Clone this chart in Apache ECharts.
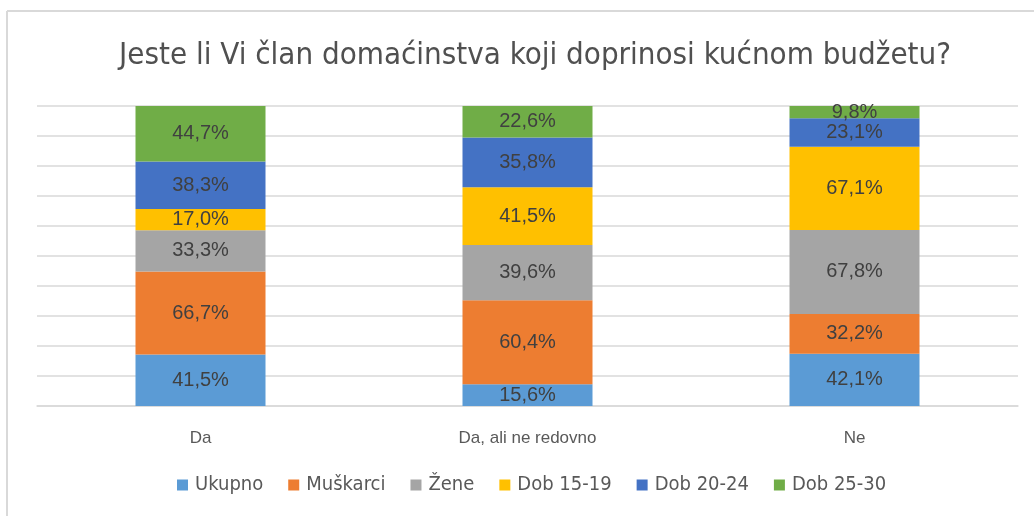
<!DOCTYPE html>
<html>
<head>
<meta charset="utf-8">
<script src="https://cdn.jsdelivr.net/npm/echarts@6/dist/echarts.min.js"></script>
<style>
  html, body { margin: 0; padding: 0; background: #fff; }
  #chart { width: 1034px; height: 516px; }
</style>
</head>
<body>
<div id="chart"></div>
<script>
// categories and raw values (percent within each group)
const categories = ['Da', 'Da, ali ne redovno', 'Ne'];
const seriesNames = ['Ukupno', 'Muškarci', 'Žene', 'Dob 15-19', 'Dob 20-24', 'Dob 25-30'];
const ukupno = [41.5, 15.6, 42.1];
const muskarci = [66.7, 60.4, 32.2];
const zene = [33.3, 39.6, 67.8];
const dob1519 = [17.0, 41.5, 67.1];
const dob2024 = [38.3, 35.8, 23.1];
const dob2530 = [44.7, 22.6, 9.8];
const colors = ['#5b9bd5', '#ed7d31', '#a5a5a5', '#ffc000', '#4472c4', '#70ad47'];

const rows = [ukupno, muskarci, zene, dob1519, dob2024, dob2530];

// 100% stacked: each column normalised to its total
const totals = categories.map(function(c, i) {
    return rows.reduce(function(s, r) { return s + r[i]; }, 0);
});

const narrow = '"Liberation Sans Narrow", "DejaVu Sans Condensed", "Roboto", sans-serif';
const labelFont = '"Liberation Sans", Arial, sans-serif';

const chart = echarts.init(document.getElementById('chart'));

const series = rows.map(function(r, k) {
    return {
        name: seriesNames[k],
        type: 'bar',
        stack: 'all',
        barWidth: 130,
        itemStyle: { color: colors[k] },
        label: {
            show: true,
            position: 'inside',
            color: '#404040',
            fontSize: 20,
            fontFamily: labelFont,
            formatter: function(p) {
                return r[p.dataIndex].toFixed(1).replace('.', ',') + '%';
            }
        },
        data: r.map(function(v, i) { return v / totals[i] * 100; })
    };
});

chart.setOption({
    animation: false,
    title: {
        text: 'Jeste li Vi član domaćinstva koji doprinosi kućnom budžetu?',
        left: 530,
        textAlign: 'center',
        top: 35,
        textStyle: { color: '#505050', fontSize: 31, fontWeight: 'normal', fontFamily: narrow }
    },
    legend: {
        bottom: 16,
        left: 172,
        itemWidth: 11,
        itemHeight: 11,
        itemGap: 25,
        icon: 'rect',
        textStyle: { color: '#595959', fontSize: 20, fontFamily: narrow, padding: [0, 0, 0, 2] },
        data: seriesNames
    },
    grid: { left: 37, right: 16, top: 106, bottom: 110 },
    xAxis: {
        type: 'category',
        data: categories,
        axisLine: { lineStyle: { color: '#d9d9d9', width: 1.5 } },
        axisTick: { show: false },
        axisLabel: { color: '#595959', fontSize: 17, fontFamily: labelFont, margin: 24 }
    },
    yAxis: {
        type: 'value',
        min: 0,
        max: 100,
        interval: 10,
        axisLabel: { show: false },
        axisLine: { show: false },
        axisTick: { show: false },
        splitLine: { lineStyle: { color: '#d9d9d9', width: 1.5 } }
    },
    graphic: [
        { type: 'line', shape: { x1: 7, y1: 11, x2: 1034, y2: 11 }, style: { stroke: '#d9d9d9', lineWidth: 2 } },
        { type: 'line', shape: { x1: 7, y1: 11, x2: 7, y2: 516 }, style: { stroke: '#d9d9d9', lineWidth: 2 } }
    ],
    series: series
});
</script>
</body>
</html>
